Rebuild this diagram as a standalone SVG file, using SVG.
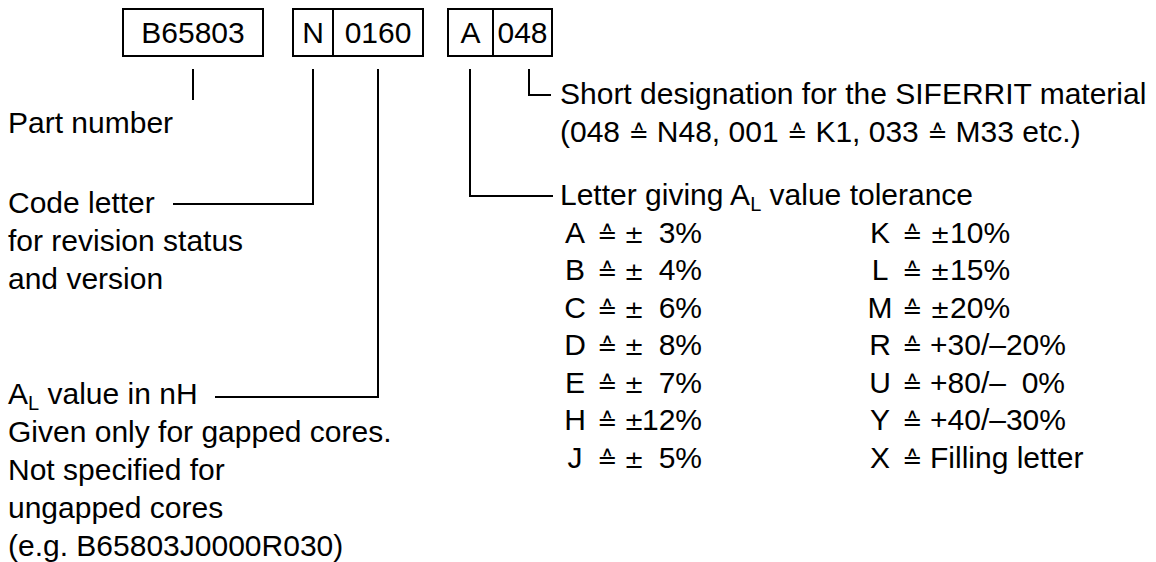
<svg xmlns="http://www.w3.org/2000/svg" width="1156" height="562" viewBox="0 0 1156 562">
<style>
text{font-family:"Liberation Sans","DejaVu Sans",Arial,sans-serif;font-size:30px;fill:#000}
.c{text-anchor:middle}
.e{text-anchor:end}
.box{fill:#fff;stroke:#000;stroke-width:2}
.ln{fill:none;stroke:#000;stroke-width:2}
.sym{font-family:"DejaVu Sans",sans-serif;font-size:24px}
.sub{font-size:20px}
</style>
<rect width="1156" height="562" fill="#fff"/>
<g id="part-box">
<rect class="box" x="123" y="9" width="140" height="47"/>
<text class="c" x="193" y="43">B65803</text>
</g>
<g id="rev-box">
<rect class="box" x="293" y="9" width="130" height="47"/>
<line class="ln" x1="333" y1="9" x2="333" y2="56"/>
<text class="c" x="313" y="43">N</text>
<text class="c" x="378" y="43">0160</text>
</g>
<g id="mat-box">
<rect class="box" x="448" y="9" width="104" height="47"/>
<line class="ln" x1="493" y1="9" x2="493" y2="56"/>
<text class="c" x="470.5" y="43">A</text>
<text class="c" x="522.5" y="43">048</text>
</g>
<g id="connectors">
<polyline class="ln" points="193,69 193,100"/>
<polyline class="ln" points="313,69 313,204 173,204"/>
<polyline class="ln" points="378,69 378,397 215,397"/>
<polyline class="ln" points="470,69 470,196 553,196"/>
<polyline class="ln" points="529,69 529,95 551,95"/>
</g>
<g id="part-label">
<text x="8" y="133">Part number</text>
</g>
<g id="code-label">
<text x="8" y="213">Code letter</text>
<text x="8" y="251">for revision status</text>
<text x="8" y="289">and version</text>
</g>
<g id="al-label">
<text x="8" y="404">A<tspan class="sub" dy="6">L</tspan><tspan dy="-6"> value in nH</tspan></text>
<text x="8" y="442">Given only for gapped cores.</text>
<text x="8" y="480">Not specified for</text>
<text x="8" y="518">ungapped cores</text>
<text x="8" y="556">(e.g. B65803J0000R030)</text>
</g>
<g id="material-label">
<text x="560" y="104">Short designation for the SIFERRIT material</text>
<text x="560" y="142">(048 <tspan class="sym">≙</tspan> N48, 001 <tspan class="sym">≙</tspan> K1, 033 <tspan class="sym">≙</tspan> M33 etc.)</text>
</g>
<g id="tolerance-label">
<text x="560" y="205">Letter giving A<tspan class="sub" dy="6">L</tspan><tspan dy="-6"> value tolerance</tspan></text>
<g id="tol-left">
<text class="c" x="575" y="242.5">A</text><text class="c sym" x="607" y="242.5">≙</text><text class="sym" x="624" y="242.5">±</text><text class="e" x="702" y="242.5">3%</text>
<text class="c" x="575" y="280">B</text><text class="c sym" x="607" y="280">≙</text><text class="sym" x="624" y="280">±</text><text class="e" x="702" y="280">4%</text>
<text class="c" x="575" y="317.5">C</text><text class="c sym" x="607" y="317.5">≙</text><text class="sym" x="624" y="317.5">±</text><text class="e" x="702" y="317.5">6%</text>
<text class="c" x="575" y="355">D</text><text class="c sym" x="607" y="355">≙</text><text class="sym" x="624" y="355">±</text><text class="e" x="702" y="355">8%</text>
<text class="c" x="575" y="392.5">E</text><text class="c sym" x="607" y="392.5">≙</text><text class="sym" x="624" y="392.5">±</text><text class="e" x="702" y="392.5">7%</text>
<text class="c" x="575" y="430">H</text><text class="c sym" x="607" y="430">≙</text><text class="sym" x="624" y="430">±</text><text class="e" x="702" y="430">12%</text>
<text class="c" x="575" y="467.5">J</text><text class="c sym" x="607" y="467.5">≙</text><text class="sym" x="624" y="467.5">±</text><text class="e" x="702" y="467.5">5%</text>
</g>
<g id="tol-right">
<text class="c" x="880" y="242.5">K</text><text class="c sym" x="912" y="242.5">≙</text><text x="930" y="242.5"><tspan class="sym">±</tspan>10%</text>
<text class="c" x="880" y="280">L</text><text class="c sym" x="912" y="280">≙</text><text x="930" y="280"><tspan class="sym">±</tspan>15%</text>
<text class="c" x="880" y="317.5">M</text><text class="c sym" x="912" y="317.5">≙</text><text x="930" y="317.5"><tspan class="sym">±</tspan>20%</text>
<text class="c" x="880" y="355">R</text><text class="c sym" x="912" y="355">≙</text><text x="930" y="355">+30/–20%</text>
<text class="c" x="880" y="392.5">U</text><text class="c sym" x="912" y="392.5">≙</text><text x="930" y="392.5">+80/–</text><text class="e" x="1065" y="392.5">0%</text>
<text class="c" x="880" y="430">Y</text><text class="c sym" x="912" y="430">≙</text><text x="930" y="430">+40/–30%</text>
<text class="c" x="880" y="467.5">X</text><text class="c sym" x="912" y="467.5">≙</text><text x="930" y="467.5">Filling letter</text>
</g>
</g>
</svg>
